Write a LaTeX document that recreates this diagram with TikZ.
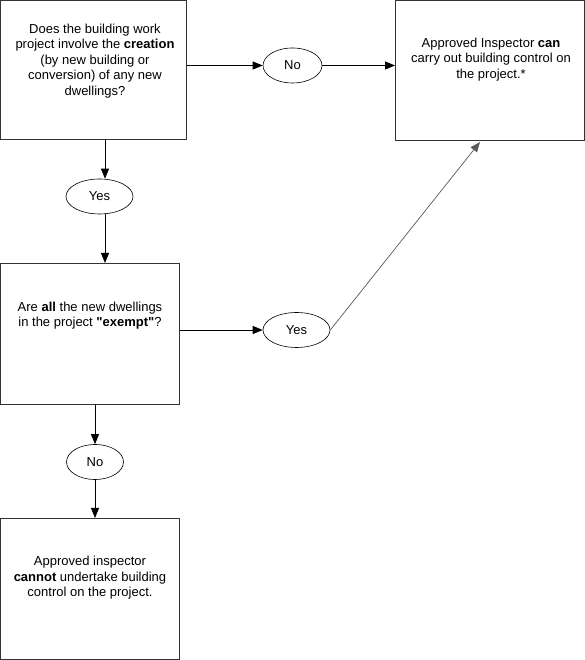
\documentclass[tikz,border=0pt]{standalone}
\usepackage{fontspec}
\setmainfont{Liberation Sans}
\newfontfamily\qfont{Liberation Sans}
\usetikzlibrary{shapes.geometric,arrows.meta,calc}
\begin{document}
\begin{tikzpicture}[x=1pt,y=1pt,
  box/.style={draw=black!80,line width=1.3pt,rectangle,inner sep=0pt},
  txt/.style={align=center,inner sep=0pt,font=\fontsize{13}{15.6}\selectfont},
  oval/.style={draw=black,line width=0.6pt,ellipse,inner sep=0pt,minimum height=35,font=\fontsize{13}{15.6}\selectfont},
  arr/.style={draw=black,line width=0.8pt,-{Triangle[length=10pt,width=8pt]}},
  darr/.style={draw=black!65,line width=0.7pt,-{Triangle[length=10pt,width=8pt]}}]
\useasboundingbox (0,0) rectangle (585,660);
% boxes
\node[box,minimum width=185.7,minimum height=138.7] (b1) at (93.5,590) {};
\node[box,minimum width=188.7,minimum height=139.7] (b2) at (490,589.5) {};
\node[box,minimum width=178.7,minimum height=140.7] (b3) at (90,326) {};
\node[box,minimum width=178.7,minimum height=140.7] (b4) at (90,71) {};
% texts
\node[txt] (t1) at (95,599) {Does the building work\\project involve the \textbf{creation}\\(by new building or\\conversion) of any new\\dwellings?};
\node[txt] (t2) at (491,600.5) {Approved Inspector \textbf{can}\\carry out building control on\\the project.*};
\node[txt] (t3) at (90,344.5) {Are \textbf{all} the new dwellings\\in the project \textbf{{\qfont"}exempt{\qfont"}}?};
\node[txt] (t4) at (90,82) {Approved inspector\\\textbf{cannot} undertake building\\control on the project.};
% ovals
\node[oval,minimum width=59] (no1) at (292.5,594.5) {No};
\node[oval,minimum width=67] (yes1) at (99.5,463.5) {Yes};
\node[oval,minimum width=67] (yes2) at (296.5,330) {Yes};
\node[oval,minimum width=57] (no2) at (95,198) {No};
% connector x positions
\coordinate (c1) at (105,0);
% connectors
\draw[arr] (b1.east |- no1) -- (no1.west);
\draw[arr] (no1.east) -- (no1 -| b2.west);
\draw[arr] (b1.south -| c1) -- (yes1.north -| c1);
\draw[arr] (yes1.south -| c1) -- (b3.north -| c1);
\draw[arr] (b3.east |- yes2) -- (yes2.west);
\draw[darr] (yes2.east) -- ($(b2.south)+(-10,-1)$);
\draw[arr] (b3.south -| no2) -- (no2.north);
\draw[arr] (no2.south) -- (no2 |- b4.north);
\end{tikzpicture}
\end{document}
